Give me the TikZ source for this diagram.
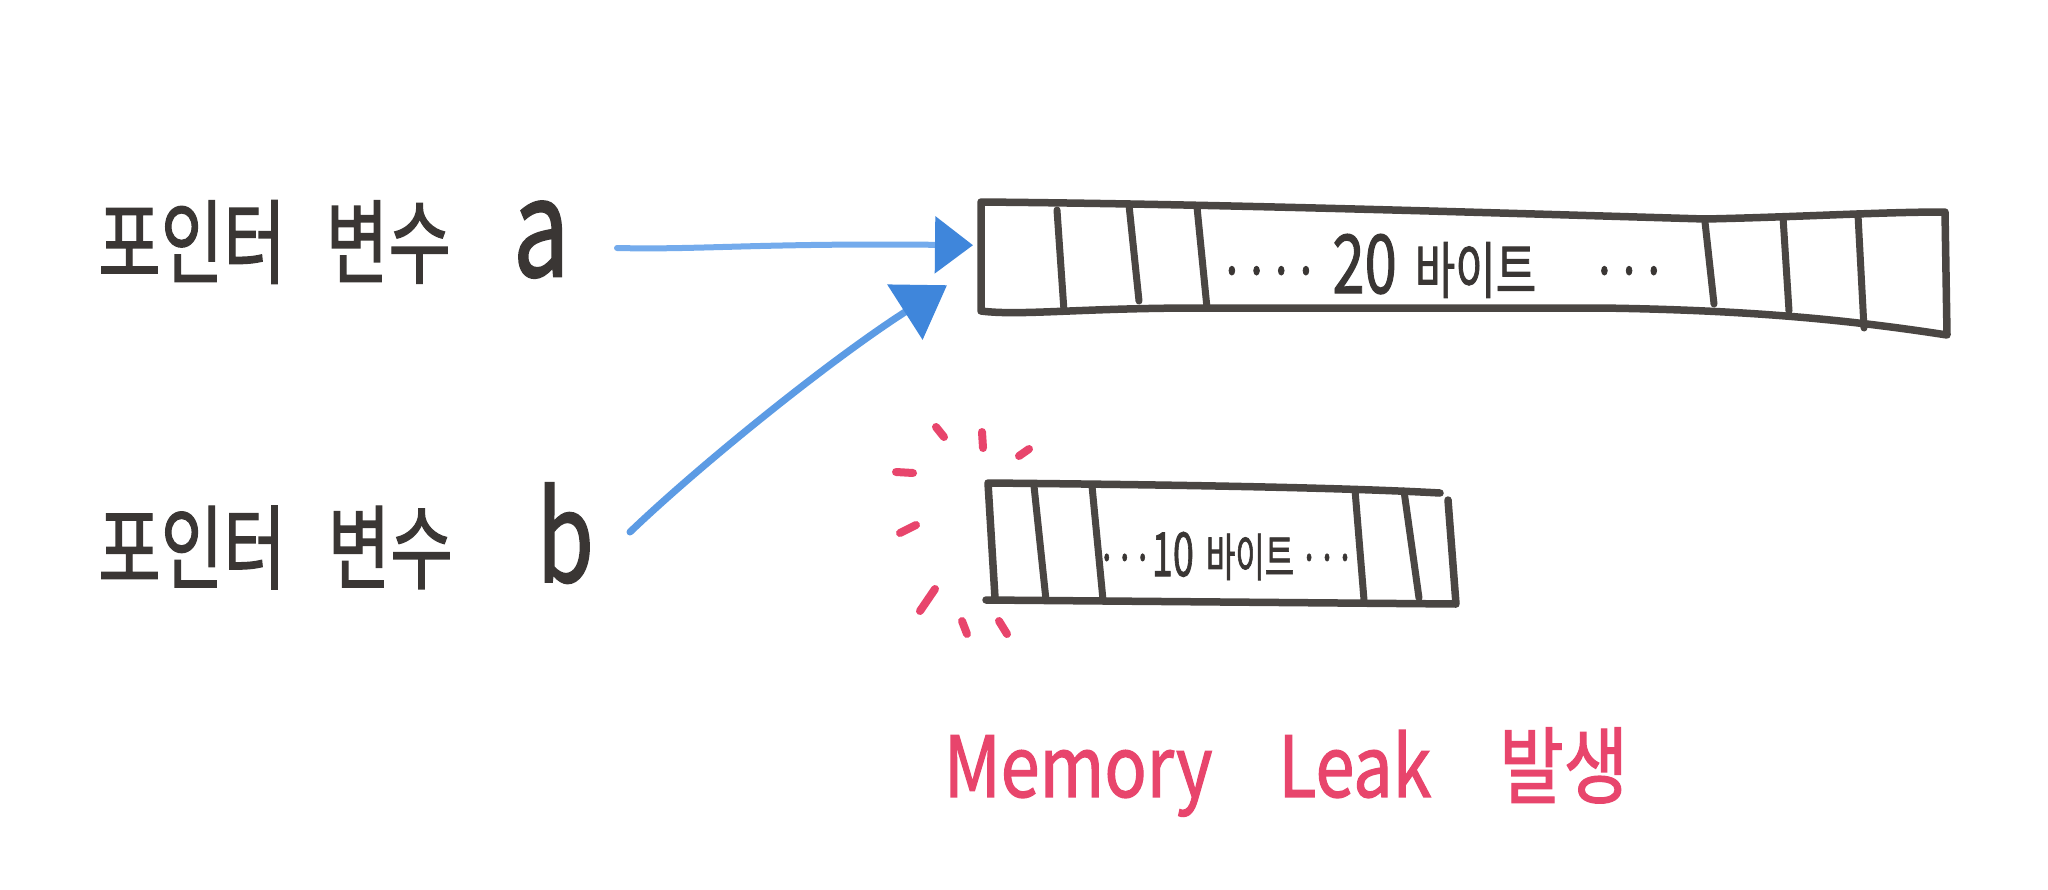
\documentclass[tikz,border=0pt]{standalone}
\usepackage{fontspec}
\setmainfont{Noto Sans CJK KR}
\newfontfamily\medkr{Noto Sans CJK KR}[FakeBold=1.6]
\usetikzlibrary{arrows.meta,calc}
\definecolor{ink}{HTML}{3A3634}
\definecolor{boxc}{HTML}{4A4643}
\definecolor{blu}{HTML}{74ABEC}
\definecolor{blub}{HTML}{5C9BE4}
\definecolor{blud}{HTML}{3F86DB}
\definecolor{pnk}{HTML}{E8456C}
\tikzset{
  lbl/.style={text=ink, inner sep=0pt, font=\medkr\fontsize{68}{72}\selectfont},
  boxtxt/.style={text=ink, inner sep=0pt, font=\medkr},
  boxline/.style={draw=boxc, line width=7.5pt, line cap=round, line join=round},
  divline/.style={draw=boxc, line width=7pt, line cap=round},
  arra/.style={draw=blu, line width=6pt, line cap=round, -{Triangle[length=38pt,width=56pt,color=blud]}},
  arrb/.style={draw=blub, line width=7pt, line cap=round, -{Triangle[length=50pt,width=64pt,color=blud]}},
  splash/.style={draw=pnk, line width=8pt, line cap=round},
  leak/.style={text=pnk, inner sep=0pt, font=\medkr\fontsize{70}{74}\selectfont},
}
\begin{document}
\begin{tikzpicture}[x=1pt,y=-1pt]
\useasboundingbox (0,0) rectangle (2048,889);
\fill[white] (0,0) rectangle (2048,889);

% labels
\node[lbl, anchor=west] (la) at (98,242) {\scalebox{1}[1.35]{포인터\hspace{40pt}변수\hspace{62pt}{\fontsize{100}{100}\selectfont a}}};
\node[lbl, anchor=west] (lb) at (98,536) {\scalebox{1}[1.35]{포인터\hspace{42pt}변수\hspace{84pt}{\fontsize{92}{92}\selectfont b}}};

% big memory block (20 bytes)
\node[inner sep=0pt, minimum width=966pt, minimum height=110pt, anchor=north west] (big) at (980,203) {};
\draw[boxline] (981,202) .. controls (1200,204) and (1400,210) .. (1705,219)
  .. controls (1800,217) and (1880,212) .. (1945,212) -- (1947,335)
  .. controls (1850,320) and (1750,310) .. (1600,308) -- (1200,308)
  .. controls (1080,308) and (1020,316) .. (981,311) -- cycle;
\foreach \xa/\ya/\xb/\yb in {1057/210/1064/311, 1129/205/1139/301, 1197/207/1207/308,
  1705/222/1714/304, 1783/217/1789/311, 1858/215/1864/328}
  \draw[divline] (\xa,\ya) -- (\xb,\yb);
\node[boxtxt] (t20) at (1443,266) {\scalebox{1}[1.4]{\fontsize{44}{48}\selectfont ····\hspace{14pt}{\fontsize{58}{60}\selectfont 20}\hspace{18pt}바이트\hspace{56pt}···}};

% small memory block (10 bytes)
\node[inner sep=0pt, minimum width=468pt, minimum height=118pt, anchor=north west] (small) at (988,483) {};
\draw[boxline] (988,483) .. controls (1200,485) and (1350,488) .. (1440,493)
  (1448,500) -- (1456,604) -- (986,600) (988,483) -- (995,598);
\foreach \xa/\ya/\xb/\yb in {1034/486/1046/600, 1092/486/1103/600,
  1355/490/1364/600, 1404/491/1419/598}
  \draw[divline] (\xa,\ya) -- (\xb,\yb);
\node[boxtxt] (t10) at (1226,556) {\scalebox{1}[1.6]{\fontsize{32}{34}\selectfont ···{\fontsize{38}{40}\selectfont 10}\hspace{12pt}바이트\hspace{6pt}···}};

% pointers
\coordinate (sa) at (617,248);
\coordinate (sb) at (630,532);
\draw[arra] (sa) .. controls (700,250) and (760,243) .. ([shift={(-7,-13)}]big.west);
\draw[arrb] (sb) .. controls (700,465) and (830,360) .. ([shift={(-33,27)}]big.west);

% leak splash
\foreach \xa/\ya/\xb/\yb in {936/427/944/437, 982/432/983/448, 1019/456/1029/449,
  896/472/913/473, 900/533/916/525, 920/611/935/589, 962/621/967/634, 999/621/1007/634}
  \draw[splash] (\xa,\ya) -- (\xb,\yb);

\node[leak] (leak) at (1286,772) {\scalebox{1}[1.2]{Memory\hspace{66pt}Leak\hspace{68pt}발생}};
\end{tikzpicture}
\end{document}
